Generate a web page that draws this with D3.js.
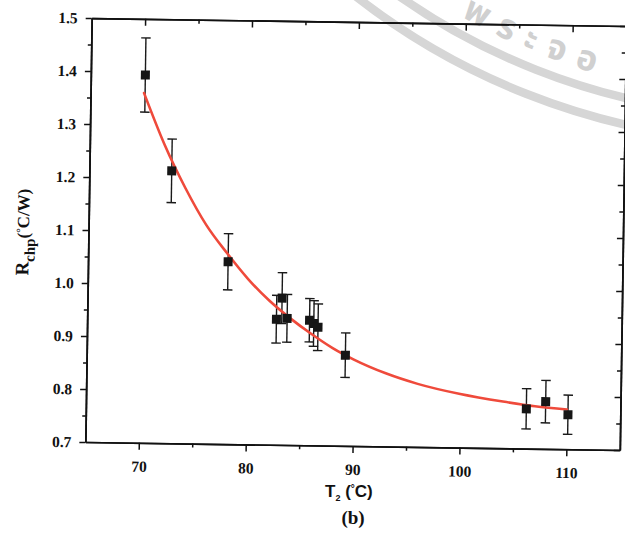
<!DOCTYPE html>
<html>
<head>
<meta charset="utf-8">
<script src="https://cdn.jsdelivr.net/npm/d3@7"></script>
<style>
  body { margin: 0; background: #ffffff; }
  svg { display: block; }
</style>
</head>
<body>
<svg id="chart" width="625" height="539"></svg>
<script>
// ---------------- data ----------------
const temperature = [70.1, 72.7, 78.1, 83.2, 82.7, 83.7, 85.8, 86.2, 86.6, 89.2, 106.2, 108.0, 110.1];
const resistance  = [1.394, 1.214, 1.044, 0.977, 0.937, 0.939, 0.936, 0.930, 0.923, 0.871, 0.775, 0.789, 0.765];
const errorBar    = [0.070, 0.060, 0.053, 0.048, 0.045, 0.045, 0.041, 0.043, 0.044, 0.042, 0.038, 0.040, 0.037];

// fitted (red) curve
const fitT = [70, 72, 74, 76, 78, 80, 82, 84, 86, 88, 90, 93, 96, 100, 104, 107, 110];
const fitR = [1.360, 1.263, 1.182, 1.113, 1.060, 1.012, 0.972, 0.939, 0.910, 0.884, 0.863, 0.838, 0.819, 0.801, 0.788, 0.780, 0.775];

const xDomain = [65, 115];
const yDomain = [0.7, 1.5];
const xMajorTicks = [70, 80, 90, 100, 110];
const xMinorTicks = [75, 85, 95, 105];
const yMajorTicks = [0.7, 0.8, 0.9, 1.0, 1.1, 1.2, 1.3, 1.4, 1.5];
const yMinorTicks = [0.75, 0.85, 0.95, 1.05, 1.15, 1.25, 1.35, 1.45];

const yTitleMain = "R", yTitleSub = "chp", yTitleUnit = ["(", "°", "C/W)"];
const xTitleMain = "T", xTitleSub = "2", xTitleUnit = ["(", "°", "C)"];
const panelLabel = "(b)";
const watermarkText = "พระจอ";

// ---------------- layout ----------------
const svg = d3.select("#chart");
const W = 625, H = 539;
const frame = { left: 88.5, right: 623, top: 22, bottom: 446 };
const serif = "'Liberation Serif', 'Times New Roman', serif";
const sans = "'Liberation Sans', Arial, sans-serif";

svg.append("rect").attr("width", W).attr("height", H).attr("fill", "#ffffff");

// ---- watermark (light grey stamp arcs) ----
const wm = svg.append("g").attr("class", "watermark");
const wmC = [779, -545];
[687, 661].forEach(r => {
  wm.append("circle").attr("cx", wmC[0]).attr("cy", wmC[1]).attr("r", r)
    .attr("fill", "none").attr("stroke", "#d6d6d6").attr("stroke-width", 8.5);
});
{
  const r = 645;
  const a1 = 40 * Math.PI / 180, a2 = -25 * Math.PI / 180;
  const sx = wmC[0] - r * Math.sin(a1), sy = wmC[1] + r * Math.cos(a1);
  const ex = wmC[0] - r * Math.sin(a2), ey = wmC[1] + r * Math.cos(a2);
  wm.append("path").attr("id", "wmPath")
    .attr("d", `M${sx},${sy} A${r},${r} 0 0 0 ${ex},${ey}`)
    .attr("fill", "none").attr("stroke", "none");
  wm.append("text")
    .attr("font-family", "'Noto Sans Thai', 'Noto Sans', 'DejaVu Sans', sans-serif")
    .attr("font-size", 35).attr("font-weight", "bold").attr("fill", "#d0d0d0")
    .attr("letter-spacing", 12)
    .append("textPath").attr("href", "#wmPath").attr("startOffset", 118)
    .text(watermarkText);
}

// ---- main plot group (scan is slightly rotated) ----
const g = svg.append("g").attr("transform", "rotate(0.855, 355.5, 234)");

const x = d3.scaleLinear().domain(xDomain).range([frame.left, frame.right]);
const y = d3.scaleLinear().domain(yDomain).range([frame.bottom, frame.top]);

const axisColor = "#111";
function styleAxis(sel) {
  sel.select(".domain").attr("stroke", axisColor).attr("stroke-width", 1.7);
  sel.selectAll(".tick line").attr("stroke", axisColor).attr("stroke-width", 1.5);
  sel.selectAll(".tick text")
    .attr("fill", "#111").attr("font-family", serif).attr("font-weight", "bold").attr("font-size", 15.5);
}

// bottom axis: major with labels, minor without
const bottomMaj = g.append("g").attr("transform", `translate(0,${frame.bottom})`)
  .call(d3.axisBottom(x).tickValues(xMajorTicks).tickSizeInner(7).tickSizeOuter(0).tickPadding(11).tickFormat(d3.format("d")));
styleAxis(bottomMaj);
const bottomMin = g.append("g").attr("transform", `translate(0,${frame.bottom})`)
  .call(d3.axisBottom(x).tickValues(xMinorTicks).tickSizeInner(4).tickSizeOuter(0).tickFormat(""));
styleAxis(bottomMin);

// left axis
const leftMaj = g.append("g").attr("transform", `translate(${frame.left},0)`)
  .call(d3.axisLeft(y).tickValues(yMajorTicks).tickSizeInner(6).tickSizeOuter(0).tickPadding(8).tickFormat(d3.format(".1f")));
styleAxis(leftMaj);
const leftMin = g.append("g").attr("transform", `translate(${frame.left},0)`)
  .call(d3.axisLeft(y).tickValues(yMinorTicks).tickSizeInner(3.5).tickSizeOuter(0).tickFormat(""));
styleAxis(leftMin);

// top axis (ticks pointing inward)
const topMaj = g.append("g").attr("transform", `translate(0,${frame.top})`)
  .call(d3.axisTop(x).tickValues(xMajorTicks).tickSizeInner(-7).tickSizeOuter(0).tickFormat(""));
styleAxis(topMaj);
const topMin = g.append("g").attr("transform", `translate(0,${frame.top})`)
  .call(d3.axisTop(x).tickValues(xMinorTicks).tickSizeInner(-4).tickSizeOuter(0).tickFormat(""));
styleAxis(topMin);

// right axis (ticks pointing inward)
const rightMaj = g.append("g").attr("transform", `translate(${frame.right},0)`)
  .call(d3.axisRight(y).tickValues(yMajorTicks).tickSizeInner(-6).tickSizeOuter(0).tickFormat(""));
styleAxis(rightMaj);
const rightMin = g.append("g").attr("transform", `translate(${frame.right},0)`)
  .call(d3.axisRight(y).tickValues(yMinorTicks).tickSizeInner(-4).tickSizeOuter(0).tickFormat(""));
styleAxis(rightMin);

// ---- data ----
const points = temperature.map((t, i) => ({ t, r: resistance[i], e: errorBar[i] }));
const capW = 9.5;

const eb = g.append("g").attr("class", "errorbars").attr("stroke", "#1a1a1a").attr("stroke-width", 1.4);
points.forEach(p => {
  const cx = x(p.t), y1 = y(p.r + p.e), y2 = y(p.r - p.e);
  eb.append("line").attr("x1", cx).attr("x2", cx).attr("y1", y1).attr("y2", y2);
  eb.append("line").attr("x1", cx - capW / 2).attr("x2", cx + capW / 2).attr("y1", y1).attr("y2", y1);
  eb.append("line").attr("x1", cx - capW / 2).attr("x2", cx + capW / 2).attr("y1", y2).attr("y2", y2);
});

const fitData = fitT.map((t, i) => [t, fitR[i]]);
g.append("path").datum(fitData)
  .attr("fill", "none").attr("stroke", "#ef4a3b").attr("stroke-width", 2.6)
  .attr("stroke-linecap", "round")
  .attr("d", d3.line().x(d => x(d[0])).y(d => y(d[1])).curve(d3.curveMonotoneX));

const sq = 9;
g.append("g").selectAll("rect").data(points).join("rect")
  .attr("x", d => x(d.t) - sq / 2).attr("y", d => y(d.r) - sq / 2)
  .attr("width", sq).attr("height", sq).attr("fill", "#161616");

// ---- axis titles ----
const yt = g.append("text")
  .attr("transform", `translate(29,${(frame.top + frame.bottom) / 2 + 3}) rotate(-90)`)
  .attr("text-anchor", "middle").attr("font-family", serif).attr("font-weight", "bold")
  .attr("fill", "#111").attr("font-size", 19);
yt.append("tspan").text(yTitleMain);
yt.append("tspan").attr("font-size", 15).attr("dy", 6).text(yTitleSub);
yt.append("tspan").attr("font-size", 17).attr("dy", -6).text(yTitleUnit[0]);
yt.append("tspan").attr("font-size", 11).attr("dy", -5).text(yTitleUnit[1]);
yt.append("tspan").attr("font-size", 17).attr("dy", 5).text(yTitleUnit[2]);

const xt = svg.append("text")
  .attr("x", 325).attr("y", 497)
  .attr("font-family", sans).attr("font-weight", "bold").attr("fill", "#111").attr("font-size", 17);
xt.append("tspan").text(xTitleMain);
xt.append("tspan").attr("font-size", 9).attr("dy", 4).text(xTitleSub);
xt.append("tspan").attr("dy", -4).text(" " + xTitleUnit[0]);
xt.append("tspan").attr("font-size", 10).attr("dy", -5).text(xTitleUnit[1]);
xt.append("tspan").attr("dy", 5).text(xTitleUnit[2]);

svg.append("text").attr("x", 353).attr("y", 524).attr("text-anchor", "middle")
  .attr("font-family", serif).attr("font-weight", "bold").attr("font-size", 19).attr("fill", "#111")
  .text(panelLabel);
</script>
</body>
</html>
